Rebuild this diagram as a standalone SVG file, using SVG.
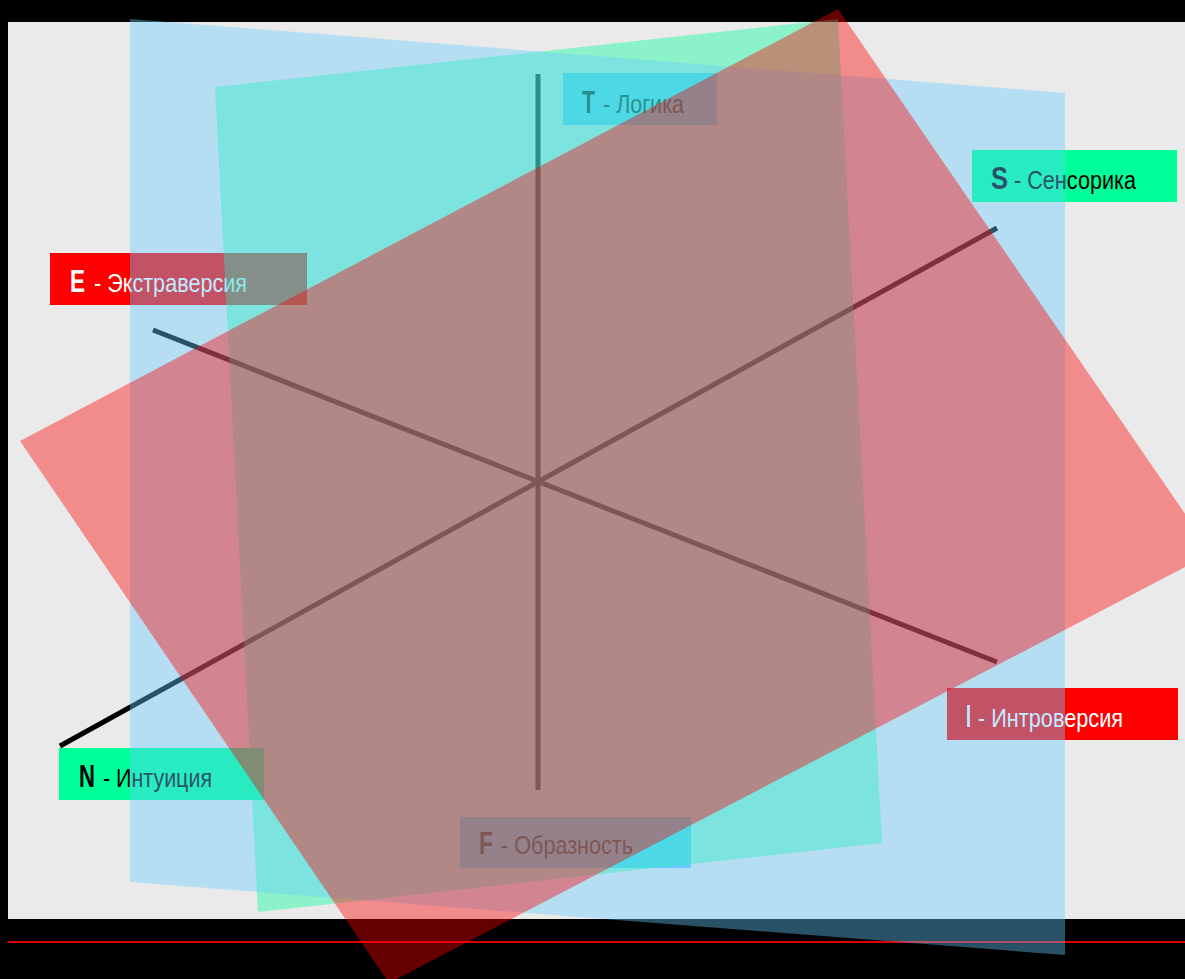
<svg xmlns="http://www.w3.org/2000/svg" width="1185" height="979" viewBox="0 0 1185 979">
<style>
.bg{fill:#000}
.paper{fill:#eaeaea}
.axis{stroke:#000;stroke-width:5;fill:none}
.boxR{fill:#ff0000}
.boxG{fill:#00ff99}
.boxB{fill:#66ccff}
.big{font-family:"Liberation Sans",Arial,sans-serif;font-weight:bold;font-size:32px}
.reg{font-family:"Liberation Sans",Arial,sans-serif;font-size:26px}
.w{fill:#fff}
.k{fill:#000}
</style>
<rect class="bg" x="0" y="0" width="1185" height="979"/>
<rect class="paper" x="8" y="22" width="1177" height="897"/>
<line x1="8" y1="942" x2="1185" y2="942" stroke="#dd0000" stroke-width="2"/>
<g id="connectors">
<line class="axis" x1="538" y1="74" x2="538" y2="790"/>
<line class="axis" x1="60" y1="746" x2="997" y2="228"/>
<line class="axis" x1="153" y1="330" x2="997" y2="662"/>
</g>
<g id="node-T">
<rect class="boxB" x="563" y="73" width="154" height="52"/>
<text class="big k" x="582" y="113" textLength="13" lengthAdjust="spacingAndGlyphs">T</text>
<text class="reg k" x="603" y="113" textLength="81" lengthAdjust="spacingAndGlyphs">- Логика</text>
</g>
<g id="node-S">
<rect class="boxG" x="972" y="150" width="205" height="52"/>
<text class="big k" x="991" y="189" textLength="17" lengthAdjust="spacingAndGlyphs">S</text>
<text class="reg k" x="1014" y="189" textLength="122" lengthAdjust="spacingAndGlyphs">- Сенсорика</text>
</g>
<g id="node-E">
<rect class="boxR" x="50" y="253" width="257" height="52"/>
<text class="big w" x="70" y="292" textLength="15" lengthAdjust="spacingAndGlyphs">E</text>
<text class="reg w" x="94" y="292" textLength="153" lengthAdjust="spacingAndGlyphs">- Экстраверсия</text>
</g>
<g id="node-I">
<rect class="boxR" x="947" y="688" width="231" height="52"/>
<text class="big w" x="966" y="727" textLength="5" lengthAdjust="spacingAndGlyphs">I</text>
<text class="reg w" x="978" y="727" textLength="145" lengthAdjust="spacingAndGlyphs">- Интроверсия</text>
</g>
<g id="node-N">
<rect class="boxG" x="59" y="748" width="205" height="52"/>
<text class="big k" x="79" y="787" textLength="16" lengthAdjust="spacingAndGlyphs">N</text>
<text class="reg k" x="103" y="787" textLength="109" lengthAdjust="spacingAndGlyphs">- Интуиция</text>
</g>
<g id="node-F">
<rect class="boxB" x="460" y="817" width="231" height="51"/>
<text class="big k" x="479" y="854" textLength="14" lengthAdjust="spacingAndGlyphs">F</text>
<text class="reg k" x="501" y="854" textLength="132" lengthAdjust="spacingAndGlyphs">- Образность</text>
</g>
<g id="planes">
<polygon points="215,87 838,19 882,843 258,912" fill="#00ff99" fill-opacity="0.4"/>
<polygon points="130,19 1065,93 1065,955 130,882" fill="#66ccff" fill-opacity="0.4"/>
<polygon points="838,9 1212,553 389,983 20,441" fill="#ff0000" fill-opacity="0.4"/>
</g>
</svg>
